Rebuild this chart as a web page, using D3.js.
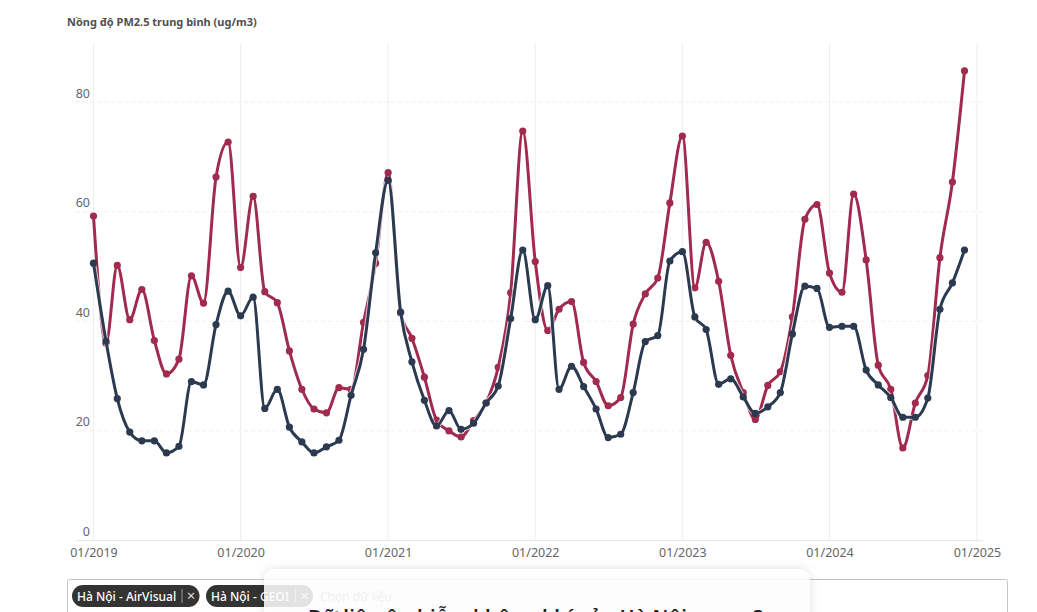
<!DOCTYPE html>
<html>
<head>
<meta charset="utf-8">
<script src="https://cdn.jsdelivr.net/npm/d3@7"></script>
<style>
    html, body { margin: 0; padding: 0; background: #fff; overflow: hidden; }
    svg { display: block; font-family: "Noto Sans", sans-serif; }
</style>
</head>
<body>
<svg id="chart" width="1037" height="612"></svg>
<script>
const startMonth = new Date(2019, 0, 1);

const airVisual = [
    59.2, 36.0, 50.2, 40.3, 45.8, 36.5, 30.4, 33.1, 48.3, 43.3, 66.3, 72.7,
    49.8, 62.8, 45.4, 43.4, 34.6, 27.6, 24.0, 23.3, 27.9, 27.6, 39.8, 50.6,
    67.1, 41.5, 36.9, 29.8, 22.0, 20.0, 18.9, 21.9, 25.1, 31.6, 45.2, 74.7,
    50.9, 38.3, 42.2, 43.6, 32.5, 29.0, 24.6, 26.1, 39.5, 45.0, 47.9, 61.6,
    73.8, 46.1, 54.4, 47.3, 33.8, 27.0, 22.1, 28.3, 30.8, 40.8, 58.6, 61.3,
    48.8, 45.3, 63.2, 51.2, 32.0, 27.6, 16.9, 25.1, 30.1, 51.6, 65.4, 85.7,
];

const geoi = [
    50.6, 36.4, 25.9, 19.8, 18.2, 18.2, 16.0, 17.2, 29.0, 28.4, 39.4, 45.5,
    41.0, 44.4, 24.1, 27.6, 20.7, 18.0, 16.0, 17.1, 18.3, 26.5, 34.9, 52.5,
    65.7, 41.7, 32.6, 25.6, 20.9, 23.7, 20.3, 21.4, 25.1, 28.2, 40.5, 53.0,
    40.3, 46.5, 27.6, 31.8, 28.1, 24.0, 18.8, 19.4, 27.0, 36.3, 37.4, 51.0,
    52.7, 40.8, 38.5, 28.5, 29.5, 26.2, 23.2, 24.4, 27.0, 37.7, 46.4, 46.0,
    38.9, 39.1, 39.1, 31.1, 28.4, 26.1, 22.5, 22.5, 26.0, 42.2, 47.0, 53.0,
];

const yTicks = [0, 20, 40, 60, 80];
const xTickYears = [2019, 2020, 2021, 2022, 2023, 2024, 2025];
const chips = ["Hà Nội - AirVisual", "Hà Nội - GEOI"];

const RED = "#a12a4f";
const NAVY = "#2b3a50";

const svg = d3.select("#chart");

const x = d3.scaleTime()
    .domain([new Date(2019, 0, 1), new Date(2025, 0, 1)])
    .range([93.5, 977]);
const y = d3.scaleLinear().domain([0, 80]).range([540.6, 102]);

const monthDate = (i) => d3.timeMonth.offset(startMonth, i);

// Grid
const grid = svg.append("g");
grid.selectAll("line.v")
    .data(xTickYears)
    .join("line")
    .attr("x1", (d) => x(new Date(d, 0, 1)))
    .attr("x2", (d) => x(new Date(d, 0, 1)))
    .attr("y1", 43)
    .attr("y2", 541)
    .attr("stroke", "#eeeeee");
grid.selectAll("line.h")
    .data(yTicks.filter((d) => d > 0))
    .join("line")
    .attr("x1", 76)
    .attr("x2", 983)
    .attr("y1", (d) => y(d))
    .attr("y2", (d) => y(d))
    .attr("stroke", "#efefef")
    .attr("stroke-dasharray", "4,3");
grid.append("line")
    .attr("x1", 76)
    .attr("x2", 983)
    .attr("y1", y(0))
    .attr("y2", y(0))
    .attr("stroke", "#e6e6e6");

// Axes
const xAxis = d3.axisBottom(x)
    .tickValues(xTickYears.map((d) => new Date(d, 0, 1)))
    .tickFormat(d3.timeFormat("%m/%Y"))
    .tickSize(0)
    .tickPadding(8);
svg.append("g")
    .attr("transform", `translate(0,${y(0)})`)
    .call(xAxis)
    .call((g) => g.select(".domain").remove())
    .selectAll("text")
    .attr("font-family", "Noto Sans")
    .attr("font-size", 12.5)
    .attr("fill", "#666");

const yAxis = d3.axisLeft(y)
    .tickValues(yTicks)
    .tickSize(0)
    .tickPadding(0);
svg.append("g")
    .attr("transform", "translate(90,-9)")
    .call(yAxis)
    .call((g) => g.select(".domain").remove())
    .selectAll("text")
    .attr("font-family", "Noto Sans")
    .attr("font-size", 12.5)
    .attr("fill", "#666");

svg.append("text")
    .attr("x", 67)
    .attr("y", 26)
    .attr("font-size", 11)
    .attr("font-weight", 700)
    .attr("fill", "#505050")
    .text("Nồng độ PM2.5 trung bình (ug/m3)");

// Lines
const line = d3.line()
    .x((d, i) => x(monthDate(i)))
    .y((d) => y(d))
    .curve(d3.curveMonotoneX);

[[airVisual, RED], [geoi, NAVY]].forEach(([values, color]) => {
    const g = svg.append("g");
    g.append("path")
        .attr("d", line(values))
        .attr("fill", "none")
        .attr("stroke", "#fff")
        .attr("stroke-opacity", 0.7)
        .attr("stroke-width", 5);
    g.append("path")
        .attr("d", line(values))
        .attr("fill", "none")
        .attr("stroke", color)
        .attr("stroke-width", 3);
    g.selectAll("circle")
        .data(values)
        .join("circle")
        .attr("cx", (d, i) => x(monthDate(i)))
        .attr("cy", (d) => y(d))
        .attr("r", 3.6)
        .attr("fill", color);
});

// Filter box below the chart
svg.append("rect")
    .attr("x", 67.5)
    .attr("y", 579.5)
    .attr("width", 940)
    .attr("height", 60)
    .attr("rx", 2)
    .attr("fill", "#fff")
    .attr("stroke", "#c4c4c4");

const chipX = [72, 206];
const chipW = [127.5, 107];
chips.forEach((label, i) => {
    const g = svg.append("g").attr("transform", `translate(${chipX[i]},585)`);
    g.append("rect")
        .attr("width", chipW[i])
        .attr("height", 22)
        .attr("rx", 11)
        .attr("fill", "#333");
    g.append("text")
        .attr("x", 5)
        .attr("y", 15.5)
        .attr("font-size", 12)
        .attr("font-weight", 500)
        .attr("fill", "#fff")
        .text(label);
    g.append("line")
        .attr("x1", chipW[i] - 17.5)
        .attr("x2", chipW[i] - 17.5)
        .attr("y1", 4)
        .attr("y2", 18)
        .attr("stroke", "#999");
    g.append("text")
        .attr("x", chipW[i] - 8.5)
        .attr("y", 16)
        .attr("text-anchor", "middle")
        .attr("font-size", 15)
        .attr("fill", "#ddd")
        .text("×");
});
svg.append("text")
    .attr("x", 320)
    .attr("y", 601)
    .attr("font-size", 12)
    .attr("fill", "#999")
    .text("Chọn dữ liệu");

// Popup card that overlaps the filter box
const defs = svg.append("defs");
const shadow = defs.append("filter")
    .attr("id", "card-shadow")
    .attr("x", "-10%")
    .attr("y", "-30%")
    .attr("width", "120%")
    .attr("height", "160%");
shadow.append("feDropShadow")
    .attr("dx", 0)
    .attr("dy", 0)
    .attr("stdDeviation", 5)
    .attr("flood-color", "#000")
    .attr("flood-opacity", 0.14);
svg.append("rect")
    .attr("x", 264)
    .attr("y", 569)
    .attr("width", 546)
    .attr("height", 90)
    .attr("rx", 10)
    .attr("fill", "#fff")
    .attr("fill-opacity", 0.85)
    .attr("filter", "url(#card-shadow)");
svg.append("text")
    .attr("x", 308)
    .attr("y", 623.5)
    .attr("font-size", 20)
    .attr("letter-spacing", 0.3)
    .attr("font-weight", 600)
    .attr("fill", "#222")
    .text("Dữ liệu ô nhiễm không khí của Hà Nội ra sao?");
</script>
</body>
</html>
